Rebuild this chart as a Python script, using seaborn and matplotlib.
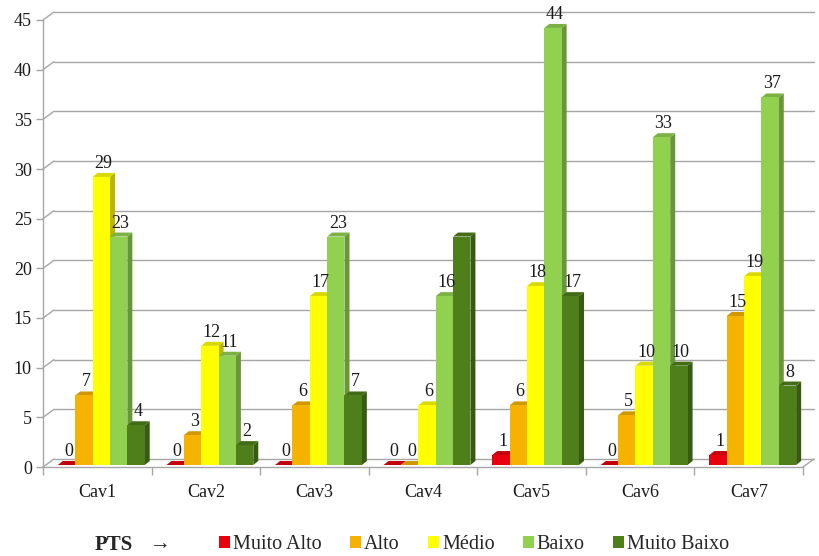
import numpy as np
import pandas as pd
import seaborn as sns
import matplotlib.pyplot as plt
import matplotlib.colors as mc
from matplotlib.patches import Polygon, Patch
from matplotlib.lines import Line2D
from matplotlib import transforms

categories = ['Cav1', 'Cav2', 'Cav3', 'Cav4', 'Cav5', 'Cav6', 'Cav7']
series_names = ['Muito Alto', 'Alto', 'Médio', 'Baixo', 'Muito Baixo']
muito_alto = [0, 0, 0, 0, 1, 0, 1]
alto = [7, 3, 6, 0, 6, 5, 15]
medio = [29, 12, 17, 6, 18, 10, 19]
baixo = [23, 11, 23, 17, 44, 33, 37]
muito_baixo = [4, 2, 7, 23, 17, 10, 8]
lab_muito_alto = ['0', '0', '0', '0', '1', '0', '1']
lab_alto = ['7', '3', '6', '0', '6', '5', '15']
lab_medio = ['29', '12', '17', '6', '18', '10', '19']
lab_baixo = ['23', '11', '23', '16', '44', '33', '37']
lab_muito_baixo = ['4', '2', '7', '', '17', '10', '8']
yticks = [0, 5, 10, 15, 20, 25, 30, 35, 40, 45]
colors = ['#E8000F', '#F5B300', '#FFFF00', '#92D050', '#4E7F1A']

values = [muito_alto, alto, medio, baixo, muito_baixo]
labels = [lab_muito_alto, lab_alto, lab_medio, lab_baixo, lab_muito_baixo]
rows = []
for s, vals, labs in zip(series_names, values, labels):
    for c, v, l in zip(categories, vals, labs):
        rows.append({'cat': c, 'serie': s, 'val': v, 'lab': l})
df = pd.DataFrame(rows)

sns.set_theme(style='white')
plt.rcParams['font.family'] = ['Liberation Serif', 'DejaVu Serif']

W, H = 819, 556
fig = plt.figure(figsize=(W / 100, H / 100), dpi=100)
ax = fig.add_axes([43 / W, 89 / H, (803 - 43) / W, (467 - 20) / H])

sns.barplot(data=df, x='cat', y='val', hue='serie', hue_order=series_names,
            order=categories, palette=colors, width=0.8, saturation=1,
            legend=False, ax=ax, edgecolor='none', linewidth=0, errorbar=None)
ax.set_xlim(-0.5, 6.5)
ax.set_ylim(0, 45)

grid_c = '#A6A6A6'
gdx, gdy = 11, 8
back = transforms.offset_copy(ax.get_yaxis_transform(), fig=fig, x=gdx, y=gdy, units='dots')
ident = transforms.IdentityTransform()
for v in yticks:
    ax.plot([0, 1], [v, v], transform=back, color=grid_c, lw=1, zorder=0, clip_on=False)
    p0 = ax.get_yaxis_transform().transform((0, v))
    ax.add_artist(Line2D([p0[0], p0[0] + gdx], [p0[1], p0[1] + gdy], transform=ident,
                         color=grid_c, lw=1, zorder=0, clip_on=False))
p1 = ax.get_yaxis_transform().transform((1, 0))
ax.add_artist(Line2D([p1[0], p1[0] + gdx], [p1[1], p1[1] + gdy], transform=ident,
                     color=grid_c, lw=1, zorder=0, clip_on=False))

# 3D-like bars
sx, sy = 4, 2
ddx, ddy = 5, 4
def shade(c, f):
    r, g, b = mc.to_rgb(c)
    return (r * f, g * f, b * f)

bars = list(ax.patches)
bars.sort(key=lambda p: p.get_x())
for i, p in enumerate(bars):
    x0, w, h = p.get_x(), p.get_width(), p.get_height()
    col = p.get_facecolor()
    p.set_visible(False)
    bl = ax.transData.transform((x0, 0)) + np.array([sx, sy])
    tr = ax.transData.transform((x0 + w, h)) + np.array([sx, sy])
    z = 3 + i * 0.01
    front = Polygon([(bl[0], bl[1]), (tr[0], bl[1]), (tr[0], tr[1]), (bl[0], tr[1])],
                    closed=True, transform=ident, facecolor=col, edgecolor='none', zorder=z, clip_on=False)
    side = Polygon([(tr[0], bl[1]), (tr[0] + ddx, bl[1] + ddy), (tr[0] + ddx, tr[1] + ddy), (tr[0], tr[1])],
                   closed=True, transform=ident, facecolor=shade(col, 0.72), edgecolor='none', zorder=z, clip_on=False)
    top = Polygon([(bl[0], tr[1]), (tr[0], tr[1]), (tr[0] + ddx, tr[1] + ddy), (bl[0] + ddx, tr[1] + ddy)],
                  closed=True, transform=ident, facecolor=shade(col, 0.85), edgecolor='none', zorder=z, clip_on=False)
    for poly in (side, top, front):
        ax.add_artist(poly)

# labels
for si, (s, vals, labs) in enumerate(zip(series_names, values, labels)):
    for ci, (v, l) in enumerate(zip(vals, labs)):
        xc = ci + (si - 2) * 0.16
        ax.annotate(l, (xc, v), xytext=(sx + 2, sy + ddy + 1), textcoords='offset pixels',
                    ha='center', va='bottom', fontsize=13, color='#1a1a1a', zorder=10,
                    annotation_clip=False)

# axes styling
for sp in ['top', 'right']:
    ax.spines[sp].set_visible(False)
for sp in ['left', 'bottom']:
    ax.spines[sp].set_color(grid_c)
    ax.spines[sp].set_linewidth(1)
    ax.spines[sp].set_zorder(2)
ax.set_xlabel('')
ax.set_ylabel('')
ax.set_yticks(yticks)
ax.set_yticklabels([str(v) for v in yticks], fontsize=13, color='#1a1a1a')
ax.tick_params(axis='y', length=5, color=grid_c, width=1, pad=3, left=True)
ax.set_xticks(range(len(categories)))
ax.set_xticklabels(categories, fontsize=13, color='#1a1a1a')
ax.tick_params(axis='x', which='major', length=0, pad=12)
ax.set_xticks(np.arange(-0.5, 7, 1), minor=True)
ax.tick_params(axis='x', which='minor', length=6, color=grid_c, width=1, bottom=True)
ax.patch.set_alpha(0)

handles = [Patch(facecolor=c, edgecolor='none') for c in colors]
fig.legend(handles, series_names, loc='center', bbox_to_anchor=(0.579, 0.02), ncol=5,
           frameon=False, handlelength=0.55, handleheight=0.55, handletextpad=0.15,
           columnspacing=1.4, fontsize=14.5)
fig.text(95 / W, 0.02, 'PTS', fontsize=15, fontweight='bold', ha='left', va='center')
fig.text(150 / W, 0.02, '→', fontsize=15, ha='left', va='center')

fig.savefig('out.png', dpi=100)
